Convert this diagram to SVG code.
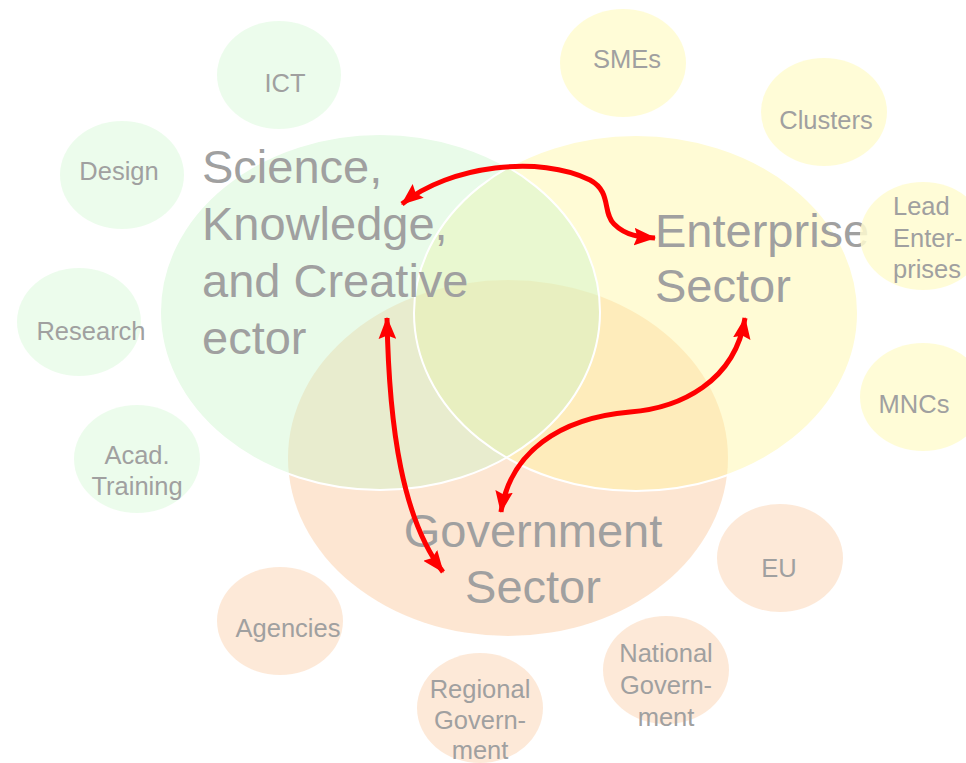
<svg xmlns="http://www.w3.org/2000/svg" width="966" height="763" viewBox="0 0 966 763">
<defs>
<style>
.big{stroke:none}
.g{fill:#c8f5c8;fill-opacity:0.4}
.y{fill:#fff59a;fill-opacity:0.42}
.o{fill:#fbbd8a;fill-opacity:0.38}
.outline{fill:none;stroke:#ffffff;stroke-width:2}
.sat-g{fill:#e9fbe9;fill-opacity:0.85}
.sat-y{fill:#fffbd0;fill-opacity:0.85}
.sat-o{fill:#fde5d1;fill-opacity:0.85}
text{font-family:"Liberation Sans",Arial,sans-serif;fill:#a0a0a0}
.lbig{font-size:47px}
.lsm{font-size:25.5px}
.arrow{fill:none;stroke:#ff0000;stroke-width:5;marker-start:url(#ah);marker-end:url(#ah)}
</style>
<marker id="ah" viewBox="0 0 20 16" refX="19" refY="8" markerWidth="22" markerHeight="18" markerUnits="userSpaceOnUse" orient="auto-start-reverse">
<path d="M0,0 L20,8 L0,16 L3,8 Z" fill="#ff0000"/>
</marker>
</defs>
<rect width="966" height="763" fill="#ffffff"/>

<g id="government"><ellipse class="big o" cx="508" cy="458" rx="220" ry="178"/></g>
<g id="enterprise"><ellipse class="big y" cx="636" cy="313" rx="222" ry="178"/></g>
<g id="science"><ellipse class="big g" cx="380" cy="312" rx="220" ry="178"/></g>
<g id="outlines">
<ellipse class="outline" cx="380" cy="312" rx="220" ry="178"/>
<ellipse class="outline" cx="636" cy="313" rx="222" ry="178"/>
</g>

<g id="science-label">
<text class="lbig" x="202" y="183">Science,</text>
<text class="lbig" x="202" y="240">Knowledge,</text>
<text class="lbig" x="202" y="297">and Creative</text>
<text class="lbig" x="202" y="354">ector</text>
</g>
<g id="enterprise-label">
<text class="lbig" x="655" y="247">Enterprise</text>
<text class="lbig" x="655" y="302">Sector</text>
</g>
<g id="government-label">
<text class="lbig" x="533" y="547" text-anchor="middle">Government</text>
<text class="lbig" x="533" y="603" text-anchor="middle">Sector</text>
</g>

<g id="ict"><ellipse class="sat-g" cx="279" cy="75" rx="62" ry="54"/><text class="lsm" x="285" y="92" text-anchor="middle">ICT</text></g>
<g id="design"><ellipse class="sat-g" cx="122" cy="175" rx="62" ry="54"/><text class="lsm" x="119" y="180" text-anchor="middle">Design</text></g>
<g id="research"><ellipse class="sat-g" cx="79" cy="322" rx="62" ry="54"/><text class="lsm" x="91" y="340" text-anchor="middle">Research</text></g>
<g id="acad-training"><ellipse class="sat-g" cx="137" cy="459" rx="63" ry="54"/><text class="lsm" x="137" y="464" text-anchor="middle">Acad.</text><text class="lsm" x="137" y="495" text-anchor="middle">Training</text></g>

<g id="smes"><ellipse class="sat-y" cx="623" cy="63" rx="63" ry="54"/><text class="lsm" x="627" y="68" text-anchor="middle">SMEs</text></g>
<g id="clusters"><ellipse class="sat-y" cx="824" cy="112" rx="63" ry="54"/><text class="lsm" x="826" y="129" text-anchor="middle">Clusters</text></g>
<g id="lead-enterprises"><ellipse class="sat-y" cx="923" cy="236" rx="63" ry="54"/><text class="lsm" x="893" y="215">Lead</text><text class="lsm" x="893" y="247">Enter-</text><text class="lsm" x="893" y="278">prises</text></g>
<g id="mncs"><ellipse class="sat-y" cx="923" cy="397" rx="63" ry="54"/><text class="lsm" x="914" y="413" text-anchor="middle">MNCs</text></g>

<g id="eu"><ellipse class="sat-o" cx="780" cy="558" rx="63" ry="54"/><text class="lsm" x="779" y="577" text-anchor="middle">EU</text></g>
<g id="agencies"><ellipse class="sat-o" cx="280" cy="621" rx="63" ry="54"/><text class="lsm" x="288" y="637" text-anchor="middle">Agencies</text></g>
<g id="regional-government"><ellipse class="sat-o" cx="480" cy="708" rx="63" ry="55"/><text class="lsm" x="480" y="698" text-anchor="middle">Regional</text><text class="lsm" x="480" y="729" text-anchor="middle">Govern-</text><text class="lsm" x="480" y="759" text-anchor="middle">ment</text></g>
<g id="national-government"><ellipse class="sat-o" cx="666" cy="670" rx="63" ry="54"/><text class="lsm" x="666" y="662" text-anchor="middle">National</text><text class="lsm" x="666" y="694" text-anchor="middle">Govern-</text><text class="lsm" x="666" y="726" text-anchor="middle">ment</text></g>

<g id="connectors">
<path class="arrow" d="M402,204 C450,165 540,155 590,180 C612,192 602,212 614,224 C626,236 640,237 655,238"/>
<path class="arrow" d="M387,318 C389,430 403,520 443,572"/>
<path class="arrow" d="M745,318 C735,382 680,408 630,412 C560,418 510,452 501,512"/>
</g>
</svg>
